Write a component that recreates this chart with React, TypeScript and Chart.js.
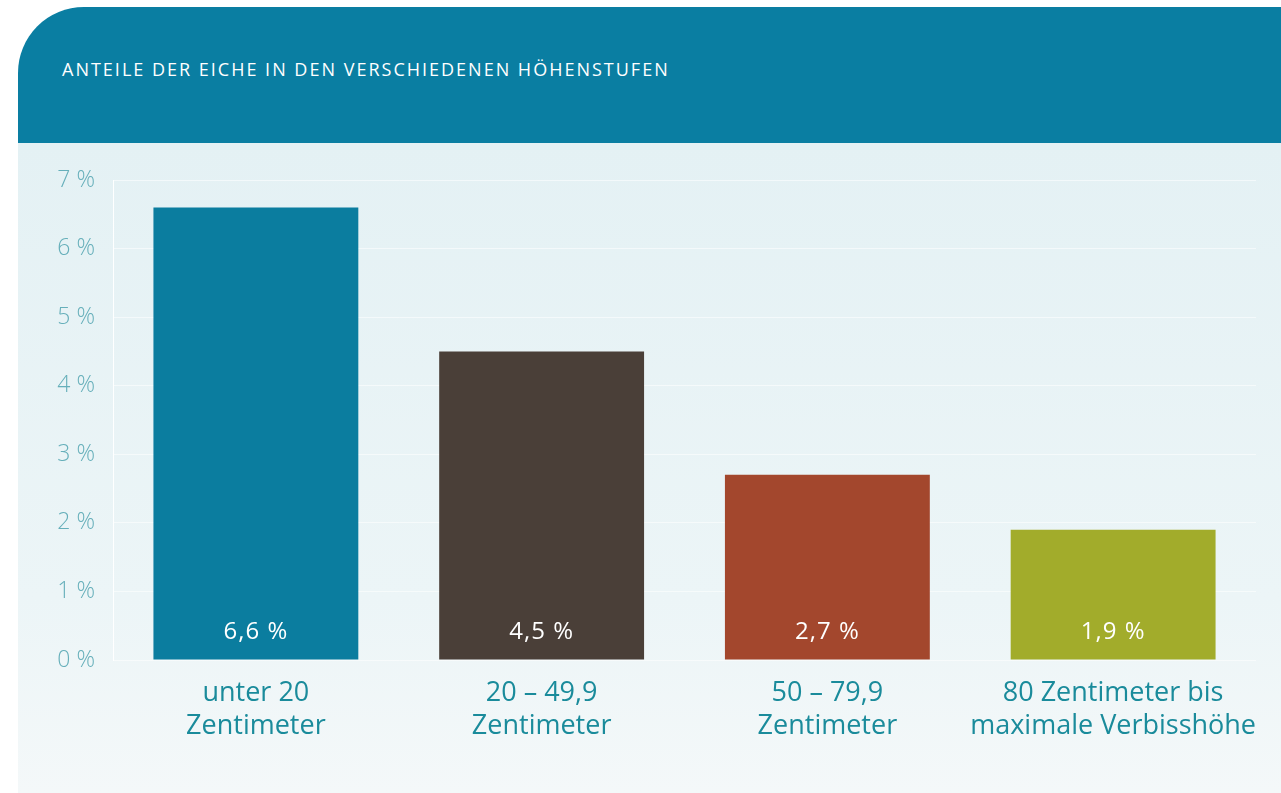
import React, { useEffect, useRef } from "react";
import { Chart, registerables } from "chart.js";

Chart.register(...registerables);

const title = "ANTEILE DER EICHE IN DEN VERSCHIEDENEN HÖHENSTUFEN";
const categories: string[][] = [
  ["unter 20", "Zentimeter"],
  ["20 – 49,9", "Zentimeter"],
  ["50 – 79,9", "Zentimeter"],
  ["80 Zentimeter bis", "maximale Verbisshöhe"],
];
const values = [6.6, 4.5, 2.7, 1.9];
const valueLabels = ["6,6 %", "4,5 %", "2,7 %", "1,9 %"];
const barColors = ["#0b7d9f", "#4a3f38", "#a3472d", "#a2ac2b"];
const yTicks = [0, 1, 2, 3, 4, 5, 6, 7];

const FONT = "'Open Sans', 'Noto Sans', sans-serif";

const valueLabelPlugin = {
  id: "valueLabels",
  afterDatasetsDraw(chart: any) {
    const ctx = chart.ctx;
    const meta = chart.getDatasetMeta(0);
    const yScale = chart.scales.y;
    ctx.save();
    ctx.fillStyle = "#ffffff";
    ctx.font = `400 24px ${FONT}`;
    try {
      (ctx as any).letterSpacing = "1px";
    } catch (e) {}
    ctx.textAlign = "center";
    ctx.textBaseline = "middle";
    meta.data.forEach((bar: any, i: number) => {
      ctx.fillText(valueLabels[i], bar.x, yScale.getPixelForValue(0) - 28);
    });
    ctx.restore();
  },
};

export default function App() {
  const ref = useRef<HTMLCanvasElement | null>(null);

  useEffect(() => {
    document.body.style.margin = "0";
    const canvas = ref.current;
    if (!canvas) return;
    const chart = new Chart(canvas, {
      type: "bar",
      data: {
        labels: categories,
        datasets: [
          {
            data: values,
            backgroundColor: barColors,
            borderWidth: 0,
            categoryPercentage: 1,
            barPercentage: 0.717,
          },
        ],
      },
      options: {
        animation: false,
        responsive: false,
        maintainAspectRatio: false,
        layout: { padding: { top: 37, right: 25, left: 0, bottom: 0 } },
        plugins: {
          legend: { display: false },
          tooltip: { enabled: false },
        },
        scales: {
          x: {
            grid: { display: false, drawTicks: false },
            border: { display: false },
            ticks: {
              color: "#1a8b9b",
              font: { family: FONT, size: 27, weight: 400, lineHeight: 1.22 },
              padding: 17,
              maxRotation: 0,
              autoSkip: false,
            },
            afterFit(scale: any) {
              scale.height = 133;
            },
          },
          y: {
            min: 0,
            max: 7,
            afterBuildTicks(scale: any) {
              scale.ticks = yTicks.map((v) => ({ value: v }));
            },
            grid: {
              color: "rgba(255,255,255,0.55)",
              lineWidth: 1,
              drawTicks: false,
            },
            border: { display: true, color: "rgba(255,255,255,0.95)", width: 1 },
            ticks: {
              color: "#66afba",
              font: { family: FONT, size: 23, weight: 300 },
              padding: 18,
              callback: (v: any) => `${v} %`,
            },
            afterFit(scale: any) {
              scale.width = 95;
            },
          },
        },
      },
      plugins: [valueLabelPlugin],
    });
    return () => chart.destroy();
  }, []);

  return (
    <div
      style={{
        position: "fixed",
        left: 0,
        top: 0,
        width: 1281,
        height: 793,
        background: "#ffffff",
        overflow: "hidden",
      }}
    >
      <div
        style={{
          position: "absolute",
          left: 18,
          top: 143,
          width: 1263,
          height: 650,
          background: "linear-gradient(180deg, #e4f1f4 0%, #ecf5f7 70%, #f4f8f9 100%)",
        }}
      />
      <div
        style={{
          position: "absolute",
          left: 18,
          top: 7,
          width: 1263,
          height: 136,
          background: "#0a7ea2",
          borderTopLeftRadius: 66,
        }}
      >
        <div
          style={{
            position: "absolute",
            left: 44,
            top: 49,
            lineHeight: "26px",
            color: "#ffffff",
            fontFamily: FONT,
            fontSize: 18,
            letterSpacing: 2,
            whiteSpace: "nowrap",
          }}
        >
          {title}
        </div>
      </div>
      <canvas
        ref={ref}
        width={1263}
        height={650}
        style={{ position: "absolute", left: 18, top: 143, width: 1263, height: 650 }}
      />
    </div>
  );
}
